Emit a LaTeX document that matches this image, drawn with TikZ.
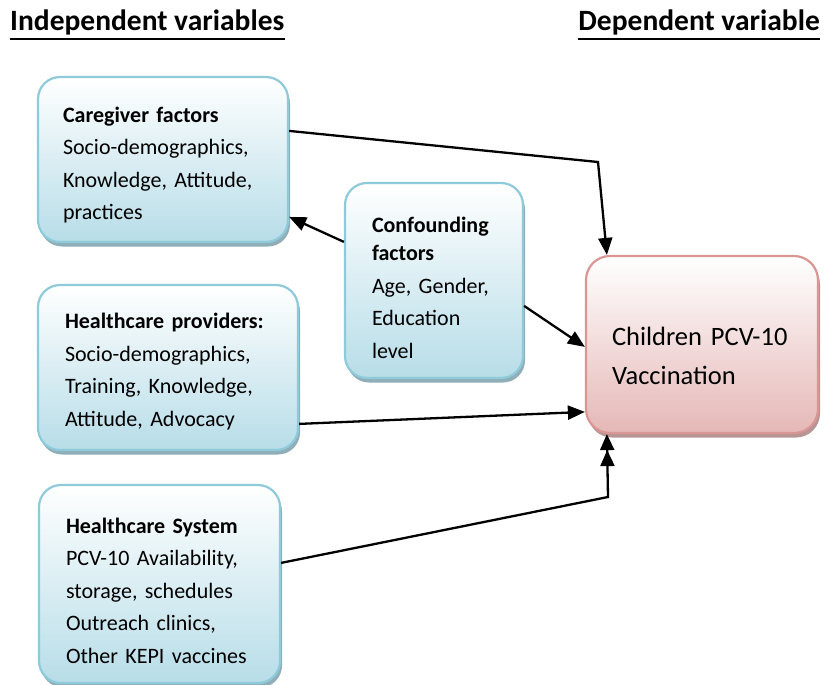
\documentclass[tikz,border=0pt]{standalone}
\usepackage{fontspec}
\setmainfont{Carlito}
\usetikzlibrary{arrows.meta,shadows,calc}
\definecolor{bbord}{HTML}{8FCADB}
\definecolor{bfill}{HTML}{B7DDE8}
\definecolor{bshad}{HTML}{8FAEB8}
\definecolor{pbord}{HTML}{D99694}
\definecolor{pfill}{HTML}{E5B8B7}
\definecolor{pshad}{HTML}{B79594}
\begin{document}
\begin{tikzpicture}[x=1pt,y=-1pt,
  bluebox/.style={draw=bbord, line width=2.2pt, rounded corners=22pt,
    top color=white, bottom color=bfill,
    general shadow={fill=bshad, shadow xshift=2pt, shadow yshift=-4.5pt},
    align=left, inner sep=0pt, font=\fontsize{22}{32.5}\selectfont},
  pinkbox/.style={draw=pbord, line width=2.2pt, rounded corners=24pt,
    top color=white, bottom color=pfill,
    general shadow={fill=pshad, shadow xshift=2pt, shadow yshift=-4.5pt},
    align=left, inner sep=0pt, font=\fontsize{26.5}{39}\selectfont},
  lower/.style={execute at begin node={\rule{0pt}{#1}}},
  header/.style={inner sep=0pt, font=\fontsize{29.5}{34}\selectfont\bfseries},
  uline/.style={line width=2.5pt},
  conn/.style={line width=2.3pt, -{Triangle[length=17pt,width=14pt]}},
  dconn/.style={line width=2.3pt, -{Triangle[length=16pt,width=14pt]Triangle[length=16pt,width=14pt]}}
]
\useasboundingbox (0,0) rectangle (825,685);

\node[header, anchor=base west] (indep) at (10,31) {Independent variables};
\node[header, anchor=base east] (dep) at (820,31) {Dependent variable};
\draw[uline] ($(indep.base west)+(0,8)$) -- ($(indep.base east)+(0,8)$);
\draw[uline] ($(dep.base west)+(0,8)$) -- ($(dep.base east)+(0,8)$);

\node[bluebox, lower=27pt, minimum width=250pt, minimum height=165pt, text width=200pt] (care) at (163,159.5)
  {\textbf{Caregiver factors}\\Socio-demographics,\\Knowledge, Attitude,\\practices};
\node[bluebox, lower=30pt, minimum width=178pt, minimum height=195pt, text width=124pt] (conf) at (434,280.5)
  {\textbf{Confounding}\\[-4pt]\textbf{factors}\\Age, Gender,\\Education\\level};
\node[bluebox, lower=24pt, minimum width=260pt, minimum height=165pt, text width=206pt] (prov) at (168,367.5)
  {\textbf{Healthcare providers:}\\Socio-demographics,\\Training, Knowledge,\\Attitude, Advocacy};
\node[bluebox, lower=29pt, minimum width=241pt, minimum height=198pt, text width=187pt] (sys) at (159.5,584)
  {\textbf{Healthcare System}\\PCV-10 Availability,\\storage, schedules\\Outreach clinics,\\Other KEPI vaccines};
\node[pinkbox, lower=41pt, minimum width=232pt, minimum height=177pt, text width=180pt] (child) at (702,344.5)
  {Children PCV-10\\Vaccination};

\coordinate (k1) at (598,162);
\coordinate (k2) at (608,497);

\draw[conn] ($(care.north east)+(0,55)$) -- (k1) -- ($(child.north west)+(22,0)$);
\draw[conn] ($(conf.north west)+(0,60)$) -- ($(care.north east)+(0,141)$);
\draw[conn] ($(conf.north east)+(0,124)$) -- ($(child.north west)+(0,92)$);
\draw[conn] ($(prov.north east)+(0,140)$) -- ($(child.north west)+(0,157)$);
\draw[dconn] ($(sys.north east)+(0,79)$) -- (k2) -- ($(child.south west)+(22,0)$);
\end{tikzpicture}
\end{document}
